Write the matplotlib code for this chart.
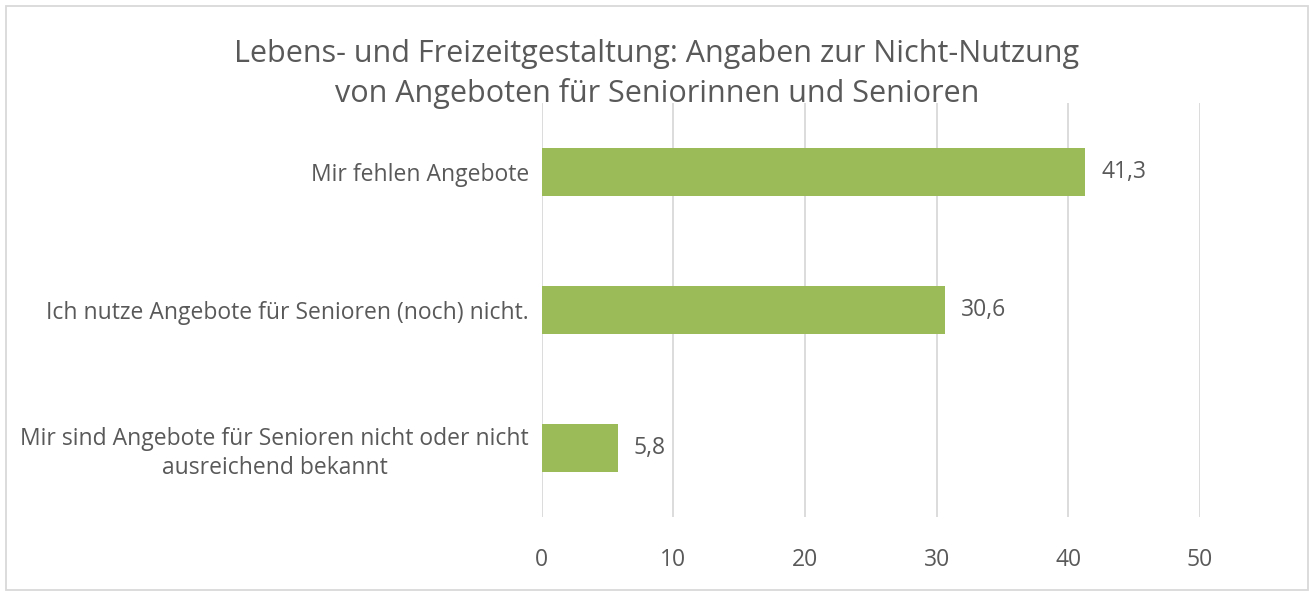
import matplotlib
matplotlib.use("Agg")
import matplotlib.pyplot as plt
from matplotlib.patches import Rectangle

plt.rcParams['font.family'] = ['Open Sans', 'DejaVu Sans']

title = "Lebens- und Freizeitgestaltung: Angaben zur Nicht-Nutzung\nvon Angeboten für Seniorinnen und Senioren"
categories = [
    "Mir fehlen Angebote",
    "Ich nutze Angebote für Senioren (noch) nicht.",
    "Mir sind Angebote für Senioren nicht oder nicht\nausreichend bekannt",
]
values = [41.3, 30.6, 5.8]
xticks = [0, 10, 20, 30, 40, 50]

TEXT = "#595959"
GRID = "#D9D9D9"
BAR = "#9BBB59"

fig = plt.figure(figsize=(13.14, 5.96), dpi=100)
ax = fig.add_axes([541.5 / 1314, 1 - 517 / 596, (1200 - 541.5) / 1314, (517 - 103) / 596])

ypos = list(range(len(categories)))
ax.barh(ypos, values, height=0.35, color=BAR, zorder=3)
ax.set_ylim(len(categories) - 0.5, -0.5)
ax.set_xlim(0, 50)
ax.set_xticks(xticks)
ax.set_xticklabels([str(t) for t in xticks], fontsize=16.5, color=TEXT)
ax.set_yticks(ypos)
ax.set_yticklabels(categories, fontsize=16.5, color=TEXT, multialignment='center', linespacing=1.3)
ax.tick_params(axis='both', length=0)
ax.tick_params(axis='x', pad=22)
ax.tick_params(axis='y', pad=9)
ax.grid(axis='x', color=GRID, linewidth=1.3, zorder=0)
for s in ax.spines.values():
    s.set_visible(False)

for y, v in zip(ypos, values):
    ax.annotate(f"{v:.1f}".replace('.', ','), (v, y), xytext=(11.5, 0), textcoords='offset points',
                ha='left', va='center', fontsize=16.5, color=TEXT)

fig.text(0.5, 1 - 74 / 596, title, ha='center', va='center', fontsize=22, color=TEXT, linespacing=1.4)

fig.patches.append(Rectangle((6 / 1314, 6 / 596), 1 - 12 / 1314, 1 - 12 / 596, transform=fig.transFigure,
                             fill=False, edgecolor=GRID, linewidth=1.3))

fig.savefig("out.png", dpi=100, facecolor='white')
